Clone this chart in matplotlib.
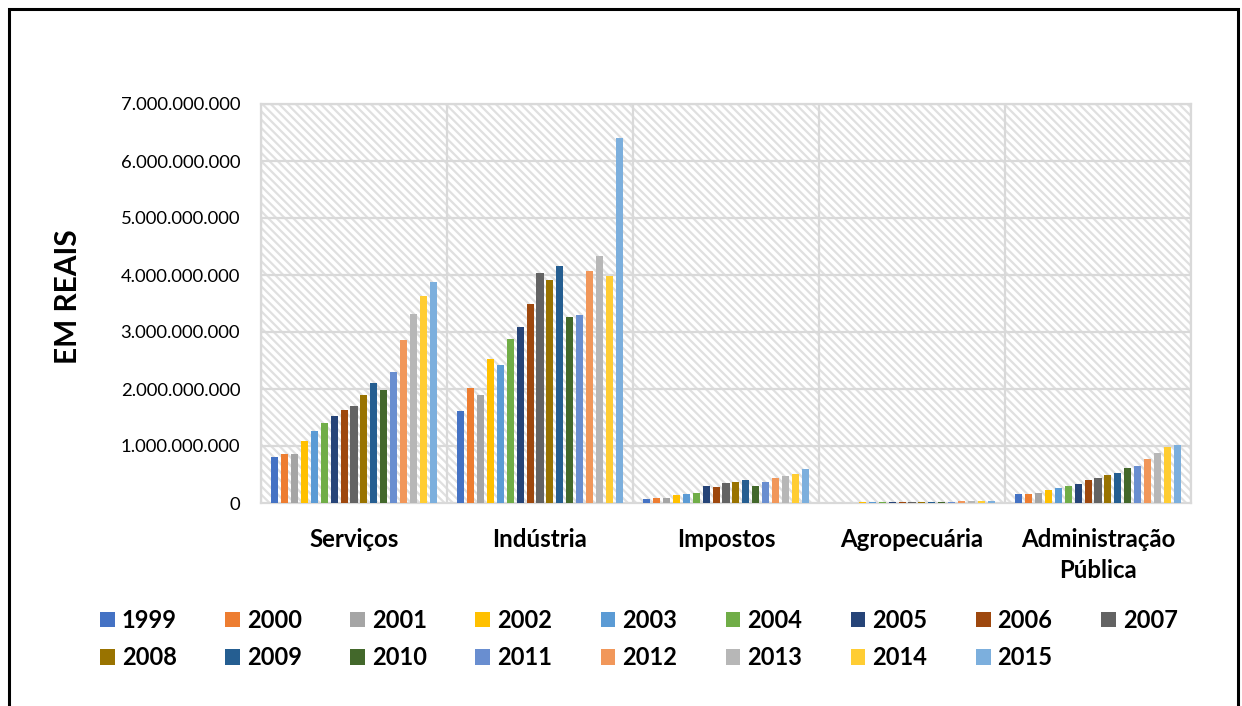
import matplotlib
matplotlib.use("Agg")
import matplotlib.pyplot as plt
import numpy as np
from matplotlib.patches import Patch, Rectangle
from matplotlib.ticker import FuncFormatter

categories = ["Serviços", "Indústria", "Impostos", "Agropecuária", "Administração\nPública"]
years = [str(y) for y in range(1999, 2016)]

# values in billions of reais, per category, one per year 1999..2015
servicos = [0.81, 0.86, 0.86, 1.09, 1.26, 1.40, 1.53, 1.64, 1.71, 1.90, 2.11, 1.98, 2.30, 2.86, 3.32, 3.64, 3.88]
industria = [1.62, 2.01, 1.89, 2.52, 2.42, 2.87, 3.08, 3.50, 4.03, 3.91, 4.15, 3.26, 3.29, 4.07, 4.33, 3.98, 6.40]
impostos = [0.07, 0.09, 0.09, 0.14, 0.15, 0.17, 0.29, 0.28, 0.35, 0.37, 0.40, 0.30, 0.37, 0.44, 0.47, 0.51, 0.60]
agropecuaria = [0.006, 0.007, 0.008, 0.010, 0.011, 0.012, 0.013, 0.015, 0.016, 0.018, 0.018, 0.022, 0.026, 0.028, 0.036, 0.040, 0.042]
adm_publica = [0.16, 0.16, 0.18, 0.22, 0.26, 0.29, 0.34, 0.40, 0.44, 0.49, 0.53, 0.62, 0.65, 0.77, 0.87, 0.99, 1.02]

colors = ["#4472C4", "#ED7D31", "#A5A5A5", "#FFC000", "#5B9BD5", "#70AD47",
          "#264478", "#9E480E", "#636363", "#997300", "#255E91", "#43682B",
          "#698ED0", "#F1975A", "#B7B7B7", "#FFCD33", "#7CAFDD"]

FONT = "Lato"
plt.rcParams["font.family"] = [FONT, "DejaVu Sans"]
plt.rcParams["hatch.color"] = "#E0E0E0"
plt.rcParams["hatch.linewidth"] = 1.6

W, H = 1242, 706
fig = plt.figure(figsize=(W / 100, H / 100), dpi=100)
ax = fig.add_axes([261 / W, 1 - 503 / H, (1191 - 261) / W, (503 - 104) / H])

data = np.array([servicos, industria, impostos, agropecuaria, adm_publica]) * 1e9
n = len(years)
x = np.arange(len(categories))
pitch = 0.0535
bw = 0.038
for i in range(n):
    offs = (i - (n - 1) / 2) * pitch
    ax.bar(x + offs, data[:, i], width=bw, color=colors[i], zorder=3, label=years[i])

ax.set_xlim(-0.5, len(categories) - 0.5)
ax.set_ylim(0, 7e9)
ax.set_yticks(np.arange(0, 7.01e9, 1e9))
ax.yaxis.set_major_formatter(FuncFormatter(lambda v, p: "0" if v == 0 else f"{int(round(v)):,}".replace(",", ".")))
ax.set_xticks(x)
ax.set_xticklabels(categories, fontweight="bold", fontsize=17.3, linespacing=1.4)
ax.tick_params(axis="x", length=0, pad=18)
ax.tick_params(axis="y", length=0, pad=15, labelsize=13.3)

# background hatch
ax.patch.set_facecolor("white")
ax.patch.set_hatch("\\\\\\\\")
ax.patch.set_edgecolor("#E0E0E0")
ax.patch.set_linewidth(0)

# gridlines
for yv in np.arange(1e9, 7.01e9, 1e9):
    ax.axhline(yv, color="#D9D9D9", lw=1.6, zorder=2)
for xv in np.arange(-0.5, len(categories), 1.0):
    ax.axvline(xv, color="#D9D9D9", lw=1.6, zorder=2)
for s in ax.spines.values():
    s.set_color("#D9D9D9")
    s.set_linewidth(1.6)

fig.text(68 / W, 1 - 297 / H, "EM REAIS", rotation=90, ha="center", va="center",
         fontsize=21.5, fontweight="bold")

ncol = 9
nrow = 2
order = []
for c in range(ncol):
    for r in range(nrow):
        k = r * ncol + c
        if k < n:
            order.append(k)
handles = [Patch(facecolor=colors[k], edgecolor="none") for k in order]
labels = [years[k] for k in order]
fig.legend(handles, labels, loc="upper left", bbox_to_anchor=(100 / W, 1 - 609 / H),
           ncol=ncol, frameon=False, borderpad=0, borderaxespad=0,
           prop={"family": [FONT, "DejaVu Sans"], "weight": "bold", "size": 17},
           handlelength=0.62, handleheight=0.62, handletextpad=0.3,
           columnspacing=2.05, labelspacing=0.6)

# figure border
fig.patches.append(Rectangle((9 / W, -0.02), (1238 - 9) / W, 1 - 9 / H + 0.02,
                             transform=fig.transFigure, fill=False, edgecolor="black",
                             lw=2.2, clip_on=False))

fig.savefig("out.png", dpi=100)
